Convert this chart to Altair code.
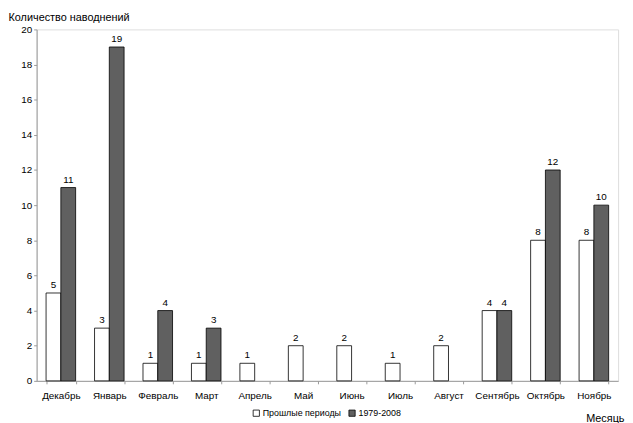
import altair as alt
import pandas as pd

months = ["Декабрь", "Январь", "Февраль", "Март", "Апрель", "Май", "Июнь",
          "Июль", "Август", "Сентябрь", "Октябрь", "Ноябрь"]
past = [5, 3, 1, 1, 1, 2, 2, 1, 2, 4, 8, 8]
recent = [11, 19, 4, 3, None, None, None, None, None, 4, 12, 10]
series = ["Прошлые периоды", "1979-2008"]
y_ticks = [0, 2, 4, 6, 8, 10, 12, 14, 16, 18, 20]

rows = []
for m, p, r in zip(months, past, recent):
    if p is not None:
        rows.append({"Месяц": m, "Серия": series[0], "Количество": p})
    if r is not None:
        rows.append({"Месяц": m, "Серия": series[1], "Количество": r})
df = pd.DataFrame(rows)

FONT = "Liberation Sans"

x = alt.X("Месяц:N", sort=months,
          scale=alt.Scale(paddingInner=0.39, paddingOuter=0.195),
          axis=alt.Axis(title="Месяць", labelAngle=0, labelFontSize=10, labelPadding=7,
                        tickBand="extent", tickSize=3, domainColor="#999", tickColor="#999",
                        labelColor="#000", titleFontWeight="normal", titleFontSize=11,
                        titleAlign="right", titleX=595, titleY=38,
                        titleBaseline="middle", labelFont=FONT, titleFont=FONT))
xo = alt.XOffset("Серия:N", sort=series, scale=alt.Scale(domain=series, paddingInner=0, paddingOuter=0))
y = alt.Y("Количество:Q",
          scale=alt.Scale(domain=[0, 20]),
          axis=alt.Axis(title="Количество наводнений", values=y_ticks, tickCount=11,
                        labelOverlap=False,
                        grid=False, tickSize=3, domainColor="#999", tickColor="#999",
                        labelFontSize=10, labelColor="#000", labelFont=FONT,
                        titleFont=FONT, titleFontSize=11, titleFontWeight="normal",
                        titleAngle=0, titleAlign="left", titleBaseline="middle",
                        titleX=-29, titleY=-12))

bars = alt.Chart(df).mark_bar(stroke="#000", strokeWidth=0.8).encode(
    x=x, xOffset=xo, y=y,
    fill=alt.Fill("Серия:N", sort=series,
                  scale=alt.Scale(domain=series, range=["#ffffff", "#606060"]),
                  legend=alt.Legend(title=None, orient="none", legendX=218, legendY=384,
                                    direction="horizontal", symbolType="square",
                                    symbolSize=40, symbolStrokeColor="#000",
                                    symbolStrokeWidth=0.8, labelFontSize=9, labelFont=FONT,
                                    columnPadding=5, labelOffset=2))
)

labels = alt.Chart(df).mark_text(dy=-8, fontSize=10, font=FONT, color="#000").encode(
    x=x, xOffset=xo, y=y, text="Количество:Q"
)

chart = alt.layer(bars, labels).properties(
    width=589, height=356,
    autosize=alt.AutoSizeParams(type="none"),
    padding={"left": 29, "top": 19, "right": 7, "bottom": 40},
).configure_view(stroke=None).configure(background="white")

chart.save("out.html", embed_options={"renderer": "svg", "actions": False})
